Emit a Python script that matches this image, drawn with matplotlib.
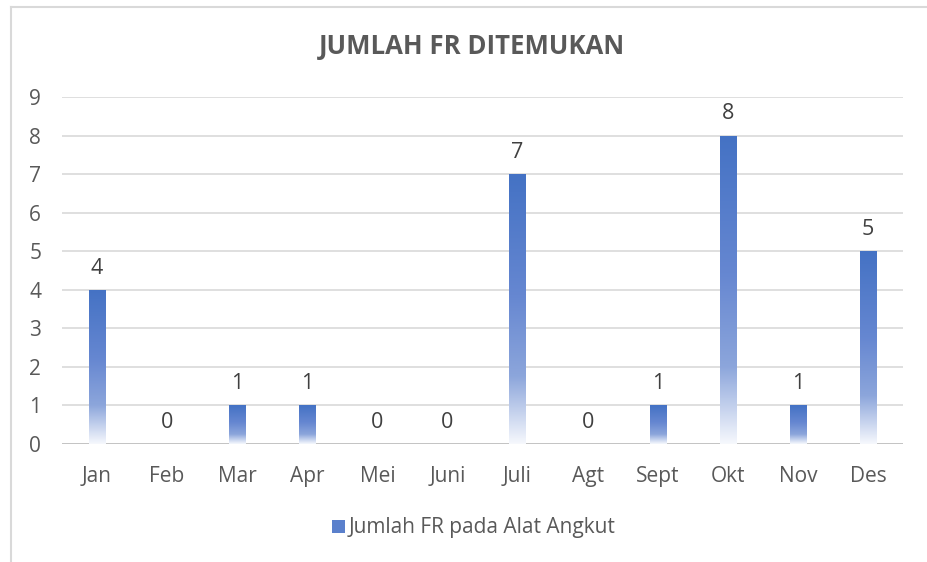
import numpy as np
import matplotlib
matplotlib.use("Agg")
import matplotlib.pyplot as plt
from matplotlib.colors import LinearSegmentedColormap
from matplotlib.patches import Patch
from matplotlib.lines import Line2D

months = ["Jan", "Feb", "Mar", "Apr", "Mei", "Juni", "Juli", "Agt", "Sept", "Okt", "Nov", "Des"]
values = [4, 0, 1, 1, 0, 0, 7, 0, 1, 8, 1, 5]
yticks = list(range(0, 10))
title = "JUMLAH FR DITEMUKAN"
series_name = "Jumlah FR pada Alat Angkut"

plt.rcParams['font.family'] = ['Open Sans', 'DejaVu Sans']
txt = '#595959'

fig = plt.figure(figsize=(9.28, 5.62), dpi=100)
ax = fig.add_axes([62/928, 1-444/562, (903-62)/928, (444-97)/562])

x = np.arange(len(months))
bw = 0.23
bars = ax.bar(x, values, width=bw, color='none', edgecolor='none', zorder=3)

cmap = LinearSegmentedColormap.from_list('g', [
    (0.0, (0.965, 0.973, 0.992)),
    (0.25, (0.55, 0.65, 0.86)),
    (0.55, (0.40, 0.53, 0.82)),
    (1.0, (0.267, 0.447, 0.769)),
])
grad = np.linspace(0, 1, 256).reshape(-1, 1)
for b, v in zip(bars, values):
    if v <= 0:
        continue
    x0 = b.get_x(); w = b.get_width()
    im = ax.imshow(grad, extent=[x0, x0 + w, 0, v], origin='lower', aspect='auto',
                   cmap=cmap, interpolation='bilinear', zorder=3)
    im.set_clip_path(b)

for xi, v in zip(x, values):
    ax.annotate(str(v), (xi, v), xytext=(0, 8), textcoords='offset points',
                ha='center', va='bottom', fontsize=15.5, color='#404040')

ax.set_xlim(-0.5, len(months) - 0.5)
ax.set_ylim(0, 9)
ax.set_yticks(yticks)
ax.set_yticklabels([str(t) for t in yticks])
ax.set_xticks(x)
ax.set_xticklabels(months)
ax.tick_params(axis='both', length=0, labelsize=15, colors=txt)
ax.tick_params(axis='y', pad=15)
ax.tick_params(axis='x', pad=16)
for s in ax.spines.values():
    s.set_visible(False)
ax.yaxis.grid(True, color='#D9D9D9', linewidth=1.2, zorder=0)
ax.set_axisbelow(True)
ax.axhline(0, color='#BFBFBF', linewidth=1.2, zorder=2)

fig.text(472/928, 1-47/562, title, ha='center', va='center', fontsize=18.5,
         fontweight='bold', color=txt)

handle = Patch(facecolor='#5A80CC', edgecolor='none')
fig.legend([handle], [series_name], loc='center', bbox_to_anchor=(474/928, 1-528/562),
           frameon=False, fontsize=15, labelcolor=txt, handlelength=0.6,
           handleheight=0.6, handletextpad=0.2)

fig.add_artist(Line2D([11/928, 11/928], [0, 1-7/562], color='#D9D9D9', linewidth=1.5,
                      transform=fig.transFigure))
fig.add_artist(Line2D([11/928, 1], [1-7/562, 1-7/562], color='#D9D9D9', linewidth=1.5,
                      transform=fig.transFigure))

fig.savefig('out.png', dpi=100, facecolor='white')
